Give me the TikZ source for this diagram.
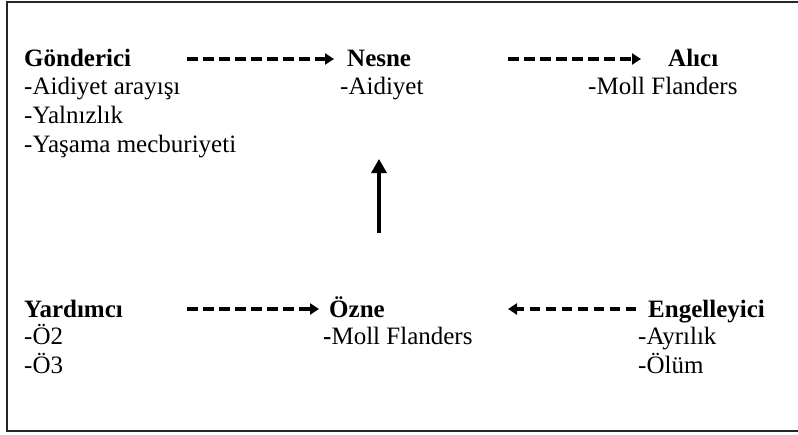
\documentclass[tikz,border=0pt]{standalone}
\usepackage{fontspec}
\setmainfont{Liberation Serif}
\usetikzlibrary{arrows.meta}
\begin{document}
\begin{tikzpicture}[x=1pt,y=-1pt,
  lbl/.style={anchor=base west,inner sep=0pt,font=\fontsize{25}{28}\selectfont},
  hd/.style={lbl,font=\fontsize{25}{28}\selectfont\bfseries},
  darrow/.style={line width=3.6pt,dash pattern=on 10.5pt off 5.5pt,-{Triangle[length=9pt,width=11pt]}},
  varrow/.style={line width=3.2pt,-{Triangle[length=14pt,width=15pt]}}]
\useasboundingbox (0,0) rectangle (798,434);
\draw[line width=1.6pt,black!85] (7,2) rectangle (805,431);
% top row
\node[hd] (gon) at (24,66) {Gönderici};
\node[lbl] (g1) at (24,94) {-Aidiyet arayışı};
\node[lbl] (g2) at (24,123) {-Yalnızlık};
\node[lbl] (g3) at (24,152) {-Yaşama mecburiyeti};
\node[hd] (nes) at (347,66) {Nesne};
\node[lbl] (n1) at (340,94) {-Aidiyet};
\node[hd] (ali) at (668,66) {Alıcı};
\node[lbl] (a1) at (588,94) {-Moll Flanders};
% bottom row
\node[hd] (yar) at (24,317) {Yardımcı};
\node[lbl] (y1) at (24,344) {-Ö2};
\node[lbl] (y2) at (24,373) {-Ö3};
\node[hd] (ozn) at (329,317) {Özne};
\node[lbl] (o1) at (323,344) {\textbf{-}Moll Flanders};
\node[hd] (eng) at (648,317) {Engelleyici};
\node[lbl] (e1) at (638,344) {-Ayrılık};
\node[lbl] (e2) at (638,373) {-Ölüm};
% arrow ends
\coordinate (t1s) at (187,59);
\coordinate (t1e) at (334,59);
\coordinate (t2s) at (508,59);
\coordinate (t2e) at (641,59);
\coordinate (b1s) at (187,309);
\coordinate (b1e) at (319,309);
\coordinate (b2s) at (636,309);
\coordinate (b2e) at (508,309);
\coordinate (vs) at (379,233);
\coordinate (ve) at (379,159);
\draw[darrow] (t1s) -- (t1e);
\draw[darrow] (t2s) -- (t2e);
\draw[darrow] (b1s) -- (b1e);
\draw[darrow] (b2s) -- (b2e);
\draw[varrow] (vs) -- (ve);
\end{tikzpicture}
\end{document}
